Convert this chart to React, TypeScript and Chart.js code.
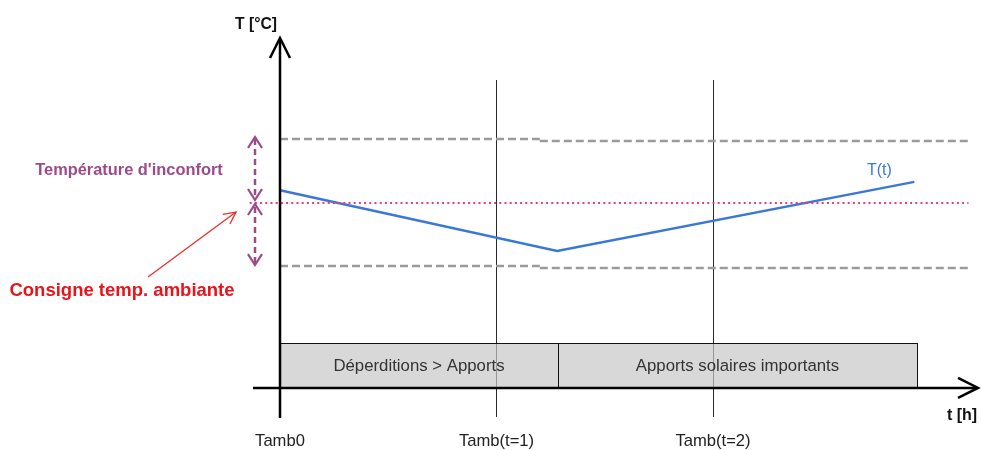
import React, { useEffect, useRef } from 'react';
import { Chart, registerables } from 'chart.js';

Chart.register(...registerables);

// ---- Data (schematic values, time in steps, temperature in °C) ----
const timeTicks = [0, 1, 2];
const timeTickLabels = ['Tamb0', 'Tamb(t=1)', 'Tamb(t=2)'];
const tempTimes = [0, 1.28, 2.93];
const tempValues = [20.4, 18.5, 20.66];
const tempLabel = 'T(t)';
const setpoint = 20;
const comfortTimes = [0, 1.2, 3.18];
const comfortUpper = [22.0, 21.94];
const comfortLower = [18.03, 17.97];
const phaseLabels = ['Déperditions > Apports', 'Apports solaires importants'];
const phaseStarts = [0, 1.284];
const phaseEnds = [1.284, 2.942];
const phaseBottom = 14.22;
const phaseTop = 15.62;
const yAxisTitle = 'T [°C]';
const xAxisTitle = 't [h]';
const discomfortLabel = "Température d'inconfort";
const setpointLabel = 'Consigne temp. ambiante';

const FONT = '"Liberation Sans", Arial, sans-serif';

function arrowHead(ctx: CanvasRenderingContext2D, tx: number, ty: number, angle: number, len: number, half: number) {
  const cos = Math.cos(angle);
  const sin = Math.sin(angle);
  const bx = tx - cos * len;
  const by = ty - sin * len;
  ctx.beginPath();
  ctx.moveTo(bx - sin * half, by + cos * half);
  ctx.lineTo(tx, ty);
  ctx.lineTo(bx + sin * half, by - cos * half);
  ctx.stroke();
}

const diagramPlugin = {
  id: 'diagram',
  beforeDatasetsDraw(chart: any) {
    const ctx: CanvasRenderingContext2D = chart.ctx;
    const xs = chart.scales.x;
    const ys = chart.scales.y;
    ctx.save();
    // vertical time markers
    ctx.strokeStyle = '#2a2a2a';
    ctx.lineWidth = 1;
    timeTicks.slice(1).forEach((t) => {
      const px = Math.round(xs.getPixelForValue(t)) + 0.5;
      ctx.beginPath();
      ctx.moveTo(px, 80);
      ctx.lineTo(px, 417);
      ctx.stroke();
    });
    // phase boxes
    const yTop = ys.getPixelForValue(phaseTop);
    const yBot = ys.getPixelForValue(phaseBottom);
    phaseLabels.forEach((label, i) => {
      const x0 = xs.getPixelForValue(phaseStarts[i]);
      const x1 = xs.getPixelForValue(phaseEnds[i]);
      ctx.fillStyle = 'rgba(200,200,200,0.7)';
      ctx.fillRect(x0, yTop, x1 - x0, yBot - yTop);
      ctx.strokeStyle = '#111';
      ctx.lineWidth = 1;
      ctx.strokeRect(Math.round(x0) + 0.5, Math.round(yTop) + 0.5, Math.round(x1 - x0), Math.round(yBot - yTop));
      ctx.fillStyle = '#333';
      ctx.font = `16.8px ${FONT}`;
      ctx.textAlign = 'center';
      ctx.textBaseline = 'middle';
      ctx.fillText(label, (x0 + x1) / 2, (yTop + yBot) / 2 + 1);
    });
    ctx.restore();
  },
  afterDatasetsDraw(chart: any) {
    const ctx: CanvasRenderingContext2D = chart.ctx;
    const xs = chart.scales.x;
    const ys = chart.scales.y;
    const ox = xs.getPixelForValue(0);
    const oy = ys.getPixelForValue(phaseBottom);
    ctx.save();
    ctx.lineCap = 'butt';
    // axes
    ctx.strokeStyle = '#000';
    ctx.lineWidth = 2.5;
    ctx.beginPath();
    ctx.moveTo(ox, 418);
    ctx.lineTo(ox, 39);
    ctx.stroke();
    ctx.beginPath();
    ctx.moveTo(253, oy);
    ctx.lineTo(977, oy);
    ctx.stroke();
    ctx.lineWidth = 2.5;
    arrowHead(ctx, ox, 38, -Math.PI / 2, 20, 10);
    arrowHead(ctx, 978, oy, 0, 20, 10);

    // axis titles
    ctx.fillStyle = '#111';
    ctx.font = `bold 15.7px ${FONT}`;
    ctx.textAlign = 'center';
    ctx.textBaseline = 'middle';
    ctx.fillText(yAxisTitle, 256, 25);
    ctx.font = `bold 16px ${FONT}`;
    ctx.fillText(xAxisTitle, 962, 416);

    // tick labels
    ctx.font = `16.6px ${FONT}`;
    ctx.fillStyle = '#222';
    timeTicks.forEach((t, i) => {
      ctx.fillText(timeTickLabels[i], xs.getPixelForValue(t), 441);
    });

    // temperature curve label
    ctx.fillStyle = '#3a78d8';
    ctx.font = `16px ${FONT}`;
    ctx.fillText(tempLabel, xs.getPixelForValue(tempTimes[2]) - 35, ys.getPixelForValue(tempValues[2]) - 11);

    // discomfort double arrows
    const ax = ox - 25;
    const yUp = ys.getPixelForValue(comfortUpper[0]) - 2;
    const ySet = ys.getPixelForValue(setpoint);
    const yLow = ys.getPixelForValue(comfortLower[0]) - 1;
    ctx.strokeStyle = '#9c4a8c';
    ctx.lineWidth = 2.5;
    ctx.setLineDash([6, 4]);
    ctx.beginPath();
    ctx.moveTo(ax, yUp + 2);
    ctx.lineTo(ax, ySet - 4);
    ctx.moveTo(ax, ySet + 4);
    ctx.lineTo(ax, yLow - 2);
    ctx.stroke();
    ctx.setLineDash([]);
    ctx.lineWidth = 2.2;
    arrowHead(ctx, ax, yUp, -Math.PI / 2, 11, 7);
    arrowHead(ctx, ax, ySet - 3, Math.PI / 2, 11, 7);
    arrowHead(ctx, ax, ySet + 1, -Math.PI / 2, 11, 7);
    arrowHead(ctx, ax, yLow, Math.PI / 2, 11, 7);

    ctx.fillStyle = '#9c4a8c';
    ctx.font = `bold 16.4px ${FONT}`;
    ctx.fillText(discomfortLabel, 129, 170, 190);

    // setpoint label with arrow
    ctx.strokeStyle = '#e8302a';
    ctx.lineWidth = 1.3;
    ctx.beginPath();
    ctx.moveTo(148, 277);
    ctx.lineTo(236, 212);
    ctx.stroke();
    arrowHead(ctx, 236, 212, Math.atan2(212 - 277, 236 - 148), 12, 6);
    ctx.fillStyle = '#e8141b';
    ctx.font = `bold 18.5px ${FONT}`;
    ctx.fillText(setpointLabel, 122, 291, 226);
    ctx.restore();
  },
};

export default function App() {
  const canvasRef = useRef<HTMLCanvasElement | null>(null);

  useEffect(() => {
    document.body.style.margin = '0';
    const canvas = canvasRef.current;
    if (!canvas) return;
    const tempData = tempTimes.map((t, i) => ({ x: t, y: tempValues[i] }));
    const seg = (vals: number[], i: number) => [
      { x: comfortTimes[i], y: vals[i] },
      { x: comfortTimes[i + 1], y: vals[i] },
    ];
    const dashStyle = {
      borderColor: '#9a9a9a',
      borderWidth: 2.5,
      borderDash: [8, 4],
      pointRadius: 0,
      showLine: true,
      fill: false,
    };
    const chart = new Chart(canvas, {
      type: 'scatter',
      data: {
        datasets: [
          { ...dashStyle, data: seg(comfortUpper, 0) },
          { ...dashStyle, data: seg(comfortUpper, 1) },
          { ...dashStyle, data: seg(comfortLower, 0) },
          { ...dashStyle, data: seg(comfortLower, 1) },
          {
            data: [
              { x: -0.14, y: setpoint },
              { x: comfortTimes[2], y: setpoint },
            ],
            borderColor: '#ec3a78',
            borderWidth: 2.2,
            borderDash: [2, 3.2],
            pointRadius: 0,
            showLine: true,
            fill: false,
          },
          {
            data: tempData,
            borderColor: '#3a78d8',
            borderWidth: 2.5,
            pointRadius: 0,
            showLine: true,
            fill: false,
            tension: 0,
          },
        ],
      },
      options: {
        animation: false,
        responsive: false,
        devicePixelRatio: 1,
        layout: { padding: 0 },
        plugins: {
          legend: { display: false },
          tooltip: { enabled: false },
        },
        events: [],
        scales: {
          x: { type: 'linear', display: false, min: -1.2933, max: 3.2379 },
          y: { type: 'linear', display: false, min: 12.281, max: 26.344 },
        },
      },
      plugins: [diagramPlugin],
    });
    return () => chart.destroy();
  }, []);

  return (
    <div style={{ width: 981, height: 450, background: '#fff' }}>
      <canvas ref={canvasRef} width={981} height={450} />
    </div>
  );
}
